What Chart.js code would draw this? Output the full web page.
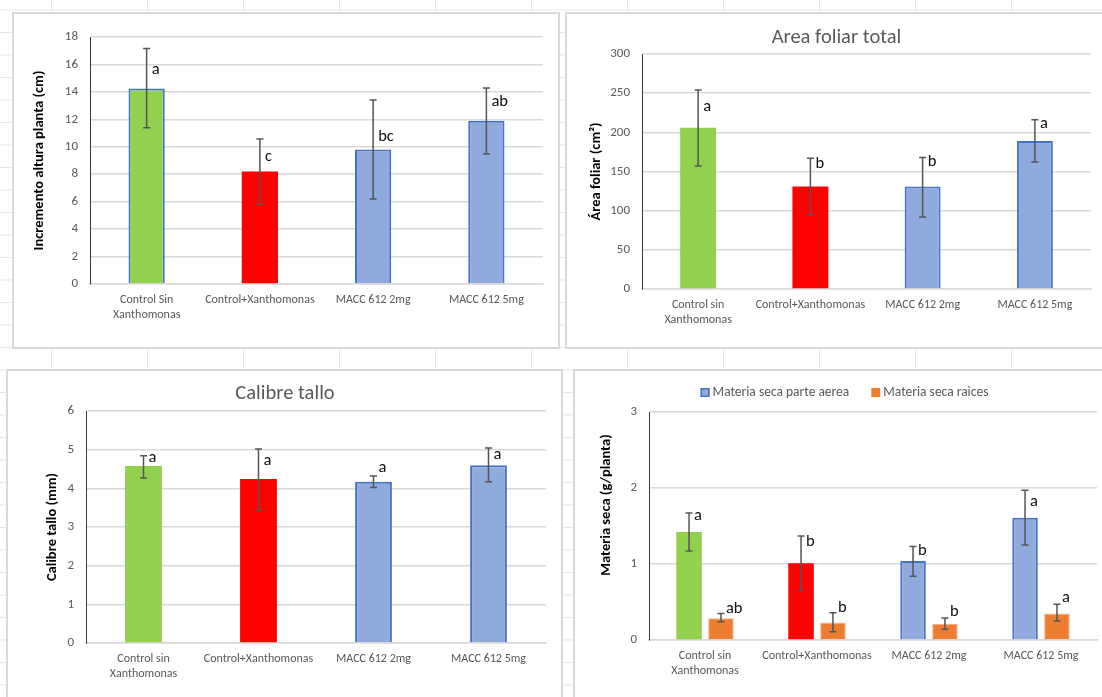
<!DOCTYPE html>
<html>
<head>
<meta charset="utf-8">
<script src="https://cdn.jsdelivr.net/npm/chart.js@4.4.1/dist/chart.umd.min.js"></script>
<style>
  body {
    margin: 0;
    width: 1102px;
    height: 697px;
    overflow: hidden;
    position: relative;
    background-color: #fff;
    background-image: linear-gradient(to right, #e6e6e6 1px, transparent 1px),
                      linear-gradient(to bottom, #e6e6e6 1px, transparent 1px);
    background-size: 96px 22.5px;
    background-position: 51px 9.5px;
  }
  .panel {
    position: absolute;
    border: 2px solid #d9d9d9;
    background: #fff;
  }
  .panel canvas { display: block; }
  #pA { left: 12px; top: 12px; }
  #pB { left: 565px; top: 12px; }
  #pC { left: 6px; top: 369px; }
  #pD { left: 573px; top: 369px; }
</style>
</head>
<body>
<div class="panel" id="pA"><canvas id="alturaChart" width="544" height="333"></canvas></div>
<div class="panel" id="pB"><canvas id="areaChart" width="537" height="333"></canvas></div>
<div class="panel" id="pC"><canvas id="calibreChart" width="553" height="336"></canvas></div>
<div class="panel" id="pD"><canvas id="materiaChart" width="529" height="336"></canvas></div>
<script>
const FONT = "Carlito, Lato, 'Open Sans', sans-serif";
const GRAY = '#595959';
const GREEN = '#92D050', RED = '#FF0000', BLUE = '#8FAADC', BLUE_LINE = '#4472C4', ORANGE = '#ED7D31';

// categories
const categoriesAltura = [['Control Sin', 'Xanthomonas'], 'Control+Xanthomonas', 'MACC 612 2mg', 'MACC 612 5mg'];
const categories = [['Control sin', 'Xanthomonas'], 'Control+Xanthomonas', 'MACC 612 2mg', 'MACC 612 5mg'];

// incremento altura planta (cm)
const alturaMean = [14.25, 8.2, 9.8, 11.9];
const alturaLow = [11.38, 5.83, 6.2, 9.48];
const alturaHigh = [17.17, 10.57, 13.41, 14.29];
const alturaLetters = ['a', 'c', 'bc', 'ab'];
const alturaLetterAt = [15.6, 9.3, 10.7, 13.3];

// area foliar (cm2)
const areaMean = [206, 131, 131, 189];
const areaLow = [157, 94, 92, 162];
const areaHigh = [254, 167, 168, 216];
const areaLetters = ['a', 'b', 'b', 'a'];
const areaLetterAt = [232, 160, 162, 211];

// calibre tallo (mm)
const calibreMean = [4.58, 4.24, 4.17, 4.6];
const calibreLow = [4.27, 3.44, 4.02, 4.17];
const calibreHigh = [4.84, 5.02, 4.32, 5.04];
const calibreLetters = ['a', 'a', 'a', 'a'];
const calibreLetterAt = [4.78, 4.71, 4.54, 4.86];

// materia seca (g/planta)
const seriesNames = ['Materia seca parte aerea', 'Materia seca raices'];
const aereaMean = [1.42, 1.01, 1.04, 1.61];
const aereaLow = [1.17, 0.65, 0.84, 1.25];
const aereaHigh = [1.67, 1.37, 1.23, 1.97];
const aereaLetters = ['a', 'b', 'b', 'a'];
const aereaLetterAt = [1.63, 1.29, 1.17, 1.82];
const raicesMean = [0.285, 0.23, 0.21, 0.35];
const raicesLow = [0.24, 0.11, 0.14, 0.25];
const raicesHigh = [0.35, 0.36, 0.29, 0.47];
const raicesLetters = ['ab', 'b', 'b', 'a'];
const raicesLetterAt = [0.41, 0.42, 0.37, 0.56];

const fills = [GREEN, RED, BLUE, BLUE];

// error bars + significance letters
const errorBars = {
    id: 'errorBars',
    afterDatasetsDraw(chart) {
        const ctx = chart.ctx;
        const y = chart.scales.y;
        chart.data.datasets.forEach((ds, di) => {
            if (!ds.errLow) return;
            chart.getDatasetMeta(di).data.forEach((bar, i) => {
                const top = y.getPixelForValue(ds.errHigh[i]);
                const bot = y.getPixelForValue(ds.errLow[i]);
                ctx.save();
                ctx.strokeStyle = '#555';
                ctx.lineWidth = 1.5;
                ctx.beginPath();
                ctx.moveTo(bar.x, top); ctx.lineTo(bar.x, bot);
                ctx.moveTo(bar.x - 3.5, top); ctx.lineTo(bar.x + 3.5, top);
                ctx.moveTo(bar.x - 3.5, bot); ctx.lineTo(bar.x + 3.5, bot);
                ctx.stroke();
                ctx.fillStyle = '#111';
                ctx.font = '16.5px ' + FONT;
                ctx.textAlign = 'left';
                ctx.textBaseline = 'middle';
                ctx.fillText(ds.letters[i], bar.x + 5, y.getPixelForValue(ds.letterAt[i]));
                ctx.restore();
            });
        });
    }
};

// chart title, y axis title, legend
const panelText = {
    id: 'panelText',
    afterDraw(chart, args, opts) {
        const ctx = chart.ctx, area = chart.chartArea;
        ctx.save();
        if (opts.title) {
            ctx.font = '20.5px ' + FONT;
            ctx.fillStyle = GRAY;
            ctx.textAlign = 'center';
            ctx.textBaseline = 'middle';
            ctx.fillText(opts.title, opts.titleX, opts.titleY);
        }
        if (opts.legend) {
            ctx.font = '13.5px ' + FONT;
            ctx.textBaseline = 'middle';
            ctx.textAlign = 'left';
            const items = chart.data.datasets.map(ds => ({ text: ds.label, w: 12 + ctx.measureText(ds.label).width, ds }));
            const total = items.reduce((s, it) => s + it.w, 0) + 22 * (items.length - 1);
            let x = opts.legend.cx - total / 2;
            const ly = opts.legend.y;
            items.forEach(it => {
                ctx.fillStyle = it.ds.legendFill;
                ctx.fillRect(x, ly - 4.5, 9, 9);
                if (it.ds.legendBorder) {
                    ctx.strokeStyle = it.ds.legendBorder;
                    ctx.lineWidth = 1.5;
                    ctx.strokeRect(x + 0.75, ly - 3.75, 7.5, 7.5);
                }
                ctx.fillStyle = GRAY;
                ctx.fillText(it.text, x + 12, ly);
                x += it.w + 22;
            });
        }
        if (opts.yTitle) {
            ctx.translate(opts.yTitleX, (area.top + area.bottom) / 2 + (opts.yTitleDy || 0));
            ctx.rotate(-Math.PI / 2);
            ctx.font = 'bold 14.5px ' + FONT;
            ctx.fillStyle = '#000';
            ctx.textAlign = 'center';
            ctx.textBaseline = 'middle';
            ctx.fillText(opts.yTitle, 0, 0);
        }
        ctx.restore();
    }
};

function makeScales(yW, xH, max, step) {
    return {
        x: {
            grid: { display: false, drawTicks: false },
            border: { color: '#d9d9d9', width: 1.5 },
            ticks: { color: GRAY, font: { family: FONT, size: 12, lineHeight: 1.3 }, padding: 8, maxRotation: 0, autoSkip: false },
            afterFit: s => { s.height = xH; }
        },
        y: {
            min: 0,
            max: max,
            grid: { color: '#d9d9d9', lineWidth: 1.5, drawTicks: false },
            border: { color: '#3a3a3a', width: 1 },
            ticks: { stepSize: step, color: GRAY, font: { family: FONT, size: 13 }, padding: 12 },
            afterFit: s => { s.width = yW; }
        }
    };
}

function makeChart(id, labels, datasets, layout, max, step, text) {
    return new Chart(document.getElementById(id), {
        type: 'bar',
        data: { labels, datasets },
        options: {
            responsive: false,
            animation: false,
            layout: { padding: { top: layout.top, right: layout.right, left: 0, bottom: 0 } },
            scales: makeScales(layout.yW, layout.xH, max, step),
            plugins: {
                legend: { display: false },
                tooltip: { enabled: false },
                panelText: text
            }
        },
        plugins: [errorBars, panelText]
    });
}

makeChart('alturaChart', categoriesAltura, [{
    data: alturaMean,
    backgroundColor: fills,
    borderColor: [BLUE_LINE, RED, BLUE_LINE, BLUE_LINE],
    borderWidth: [2, 0, 2, 2],
    barPercentage: 0.32, categoryPercentage: 1,
    errLow: alturaLow, errHigh: alturaHigh, letters: alturaLetters, letterAt: alturaLetterAt
}], { top: 23, right: 15, yW: 76, xH: 63 }, 18, 2,
   { yTitle: 'Incremento altura planta (cm)', yTitleX: 25 });

makeChart('areaChart', categories, [{
    data: areaMean,
    backgroundColor: fills,
    borderColor: [GREEN, RED, BLUE_LINE, BLUE_LINE],
    borderWidth: [0, 0, 2, 2],
    barPercentage: 0.32, categoryPercentage: 1,
    errLow: areaLow, errHigh: areaHigh, letters: areaLetters, letterAt: areaLetterAt
}], { top: 40, right: 13, yW: 75, xH: 58 }, 300, 50,
   { title: 'Area foliar total', titleX: 269.5, titleY: 24, yTitle: 'Área foliar (cm²)', yTitleX: 29 });

makeChart('calibreChart', categories, [{
    data: calibreMean,
    backgroundColor: fills,
    borderColor: [GREEN, RED, BLUE_LINE, BLUE_LINE],
    borderWidth: [0, 0, 2, 2],
    barPercentage: 0.32, categoryPercentage: 1,
    errLow: calibreLow, errHigh: calibreHigh, letters: calibreLetters, letterAt: calibreLetterAt
}], { top: 40, right: 15, yW: 78, xH: 64 }, 6, 1,
   { title: 'Calibre tallo', titleX: 277, titleY: 23, yTitle: 'Calibre tallo (mm)', yTitleX: 44.5 });

makeChart('materiaChart', categories, [{
    label: seriesNames[0],
    data: aereaMean,
    backgroundColor: fills,
    borderColor: [GREEN, RED, BLUE_LINE, BLUE_LINE],
    borderWidth: [0, 0, 2, 2],
    legendFill: BLUE, legendBorder: BLUE_LINE,
    barPercentage: 0.8, categoryPercentage: 0.57,
    errLow: aereaLow, errHigh: aereaHigh, letters: aereaLetters, letterAt: aereaLetterAt
}, {
    label: seriesNames[1],
    data: raicesMean,
    backgroundColor: ORANGE,
    borderColor: '#F4B183',
    borderWidth: 1,
    legendFill: ORANGE,
    barPercentage: 0.8, categoryPercentage: 0.57,
    errLow: raicesLow, errHigh: raicesHigh, letters: raicesLetters, letterAt: raicesLetterAt
}], { top: 41, right: 7, yW: 74, xH: 67 }, 3, 1,
   { legend: { cx: 269.5, y: 21.5 }, yTitle: 'Materia seca (g/planta)', yTitleX: 31.7, yTitleDy: -21 });
</script>
</body>
</html>
